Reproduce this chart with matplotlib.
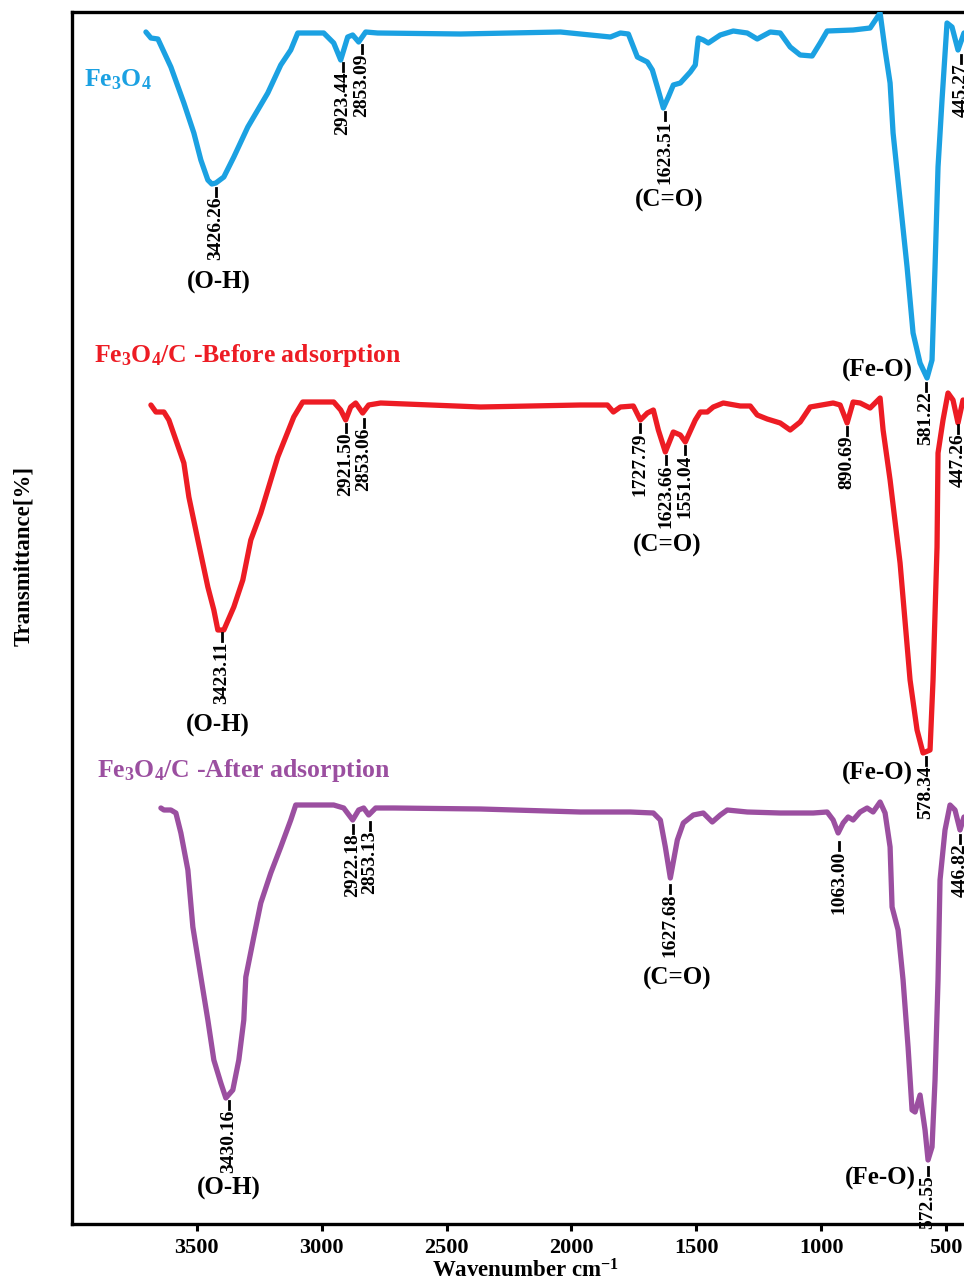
import matplotlib
matplotlib.use('Agg')
import matplotlib.pyplot as plt

plt.rcParams['font.family'] = ['Liberation Serif', 'DejaVu Serif']
plt.rcParams['font.weight'] = 'bold'
plt.rcParams['mathtext.fontset'] = 'custom'
plt.rcParams['mathtext.rm'] = 'Liberation Serif:bold'
plt.rcParams['mathtext.it'] = 'Liberation Serif:bold'
plt.rcParams['mathtext.bf'] = 'Liberation Serif:bold'

# ---------------- data (wavenumber cm-1, stacked transmittance a.u.) -------------
fe3o4_wn = [3704, 3684, 3656, 3604, 3552, 3512, 3484, 3456, 3440, 3424, 3392, 3352, 3296,
            3216, 3164, 3124, 3096, 2992, 2952, 2924, 2896, 2876, 2852, 2824, 2776,
            2444, 2044, 1884, 1844, 1804, 1772, 1736, 1696, 1676, 1656, 1632, 1612,
            1592, 1564, 1524, 1504, 1492, 1472, 1452, 1404, 1352, 1296, 1256, 1204,
            1164, 1124, 1084, 1036, 1004, 976, 872, 804, 764, 744, 724, 712, 684,
            656, 632, 604, 576, 556, 544, 532, 516, 496, 476, 452, 428]
fe3o4_t = [119.2, 118.6, 118.5, 115.7, 112.1, 109.1, 106.4, 104.4, 104.0, 104.1, 104.7, 106.7, 109.7,
           113.1, 115.9, 117.4, 119.1, 119.1, 118.1, 116.4, 118.7, 118.9, 118.2, 119.2, 119.1,
           119.0, 119.2, 118.8, 118.7, 119.1, 119.0, 116.7, 116.2, 115.4, 113.7, 111.6, 112.7,
           113.9, 114.1, 115.2, 115.9, 118.6, 118.4, 118.1, 118.9, 119.3, 119.1, 118.5, 119.2,
           119.1, 117.7, 116.9, 116.8, 118.1, 119.3, 119.4, 119.6, 121.1, 117.4, 114.1, 109.1, 102.4,
           95.7, 89.1, 86.1, 84.6, 86.4, 95.7, 105.7, 112.4, 120.1, 119.7, 117.4, 119.1]

before_wn = [3684, 3664, 3632, 3612, 3584, 3552, 3532, 3496, 3456, 3432, 3416, 3392, 3352,
             3316, 3284, 3244, 3176, 3112, 3076, 2952, 2924, 2904, 2884, 2864, 2836, 2812,
             2764, 2364, 1964, 1856, 1832, 1804, 1752, 1724, 1696, 1672, 1652, 1624, 1592,
             1564, 1544, 1504, 1484, 1456, 1432, 1392, 1324, 1284, 1256, 1216, 1164, 1124,
             1084, 1044, 952, 924, 896, 872, 844, 804, 764, 752, 724, 684, 644, 616, 592,
             564, 552, 536, 532, 512, 492, 472, 452, 432]
before_t = [81.9, 81.2, 81.2, 80.4, 78.4, 76.1, 72.7, 68.4, 63.7, 61.4, 59.4, 59.4, 61.7,
            64.4, 68.4, 71.1, 76.7, 80.7, 82.2, 82.2, 81.4, 80.4, 81.7, 82.1, 81.1, 81.9,
            82.1, 81.7, 81.9, 81.9, 81.2, 81.7, 81.8, 80.4, 81.1, 81.4, 79.4, 77.2, 79.2,
            78.9, 78.2, 80.4, 81.2, 81.2, 81.7, 82.1, 81.8, 81.8, 80.9, 80.5, 80.1, 79.4,
            80.2, 81.7, 82.1, 81.9, 80.1, 82.2, 82.1, 81.6, 82.6, 79.4, 74.4, 66.1, 54.4, 49.4, 47.1,
            47.4, 54.4, 67.7, 77.1, 80.4, 83.1, 82.4, 80.1, 82.4]

after_wn = [3644, 3632, 3604, 3584, 3564, 3536, 3516, 3484, 3456, 3432, 3404, 3384, 3356,
            3332, 3312, 3304, 3272, 3244, 3204, 3164, 3124, 3104, 2952, 2912, 2876, 2852,
            2832, 2812, 2784, 2712, 2364, 1964, 1764, 1672, 1644, 1624, 1604, 1576, 1552,
            1512, 1472, 1436, 1404, 1376, 1296, 1164, 1032, 976, 952, 932, 912, 892, 872,
            844, 816, 792, 764, 744, 724, 716, 692, 672, 652, 636, 624, 604, 584, 572, 556,
            544, 532, 524, 504, 484, 464, 444, 428]
after_t = [41.6, 41.4, 41.4, 41.1, 39.1, 35.4, 29.7, 24.7, 20.4, 16.4, 14.1, 12.6, 13.4,
           16.4, 20.4, 24.7, 28.7, 32.1, 35.1, 37.7, 40.4, 41.9, 41.9, 41.6, 40.4, 41.4,
           41.6, 40.9, 41.6, 41.6, 41.5, 41.2, 41.2, 41.1, 40.4, 37.7, 34.6, 38.4, 40.1,
           40.9, 41.1, 40.2, 40.9, 41.4, 41.2, 41.1, 41.1, 41.2, 40.4, 39.1, 40.1, 40.7, 40.4,
           41.2, 41.6, 41.2, 42.2, 41.1, 37.7, 31.7, 29.4, 24.4, 17.7, 11.4, 11.2, 12.9, 9.4, 6.4, 7.7,
           14.4, 24.4, 34.4, 39.4, 41.9, 41.4, 39.4, 40.7]

series_names = ['Fe$_3$O$_4$', 'Fe$_3$O$_4$/C -Before adsorption', 'Fe$_3$O$_4$/C -After adsorption']
series_colors = ['#1BA1E2', '#ED1C24', '#9B4FA0']

# peak labels: (label position wn, tick top, text)
peaks_fe3o4 = [(3424, 103.6, '3426.26'), (2916, 116.1, '2923.44'), (2840, 117.9, '2853.09'),
               (1624, 111.2, '1623.51'), (440, 116.9, '445.27'), (580, 84.1, '581.22')]
peaks_before = [(3400, 59.1, '3423.11'), (2904, 80.0, '2921.50'), (2832, 80.5, '2853.06'),
                (1724, 80.0, '1727.79'), (1620, 76.8, '1623.66'), (1544, 77.8, '1551.04'),
                (896, 79.7, '890.69'), (452, 79.9, '447.26'), (580, 46.7, '578.34')]
peaks_after = [(3372, 12.3, '3430.16'), (2876, 39.9, '2922.18'), (2808, 40.2, '2853.13'),
               (1604, 33.9, '1627.68'), (928, 38.2, '1063.00'), (444, 38.9, '446.82'),
               (572, 5.7, '572.55')]

# group labels: (wn, y, text)
groups = [(3412, 94.2, '(O-H)'), (1608, 102.4, '(C=O)'), (776, 85.4, '(Fe-O)'),
          (3416, 49.9, '(O-H)'), (1616, 67.9, '(C=O)'), (776, 45.1, '(Fe-O)'),
          (3372, 3.6, '(O-H)'), (1576, 24.6, '(C=O)'), (764, 4.6, '(Fe-O)')]

# series name positions (left wn, y)
name_pos = [(3952, 114.4), (3912, 86.9), (3900, 45.4)]

xticks = [3500, 3000, 2500, 2000, 1500, 1000, 500]

# ---------------- figure ----------------
fig = plt.figure(figsize=(9.64, 12.84), dpi=100)
ax = fig.add_axes([72 / 964, 60 / 1284, (964 - 72) / 964, 1212 / 1284])
ax.set_xlim(4000, 428)
ax.set_ylim(0, 121.2)

for wn, t, c in zip([fe3o4_wn, before_wn, after_wn], [fe3o4_t, before_t, after_t], series_colors):
    ax.plot(wn, t, color=c, lw=3.8, solid_joinstyle='round', solid_capstyle='round', zorder=3)

for peaks in [peaks_fe3o4, peaks_before, peaks_after]:
    for w, y, s in peaks:
        ax.plot([w, w], [y, y - 0.75], color='black', lw=2.0, zorder=4)
        ax.text(w, y - 0.85, s, rotation=90, ha='center', va='top', fontsize=14,
                fontweight='bold', color='black', zorder=4)

for w, y, s in groups:
    ax.text(w, y, s, ha='center', va='center', fontsize=18, fontweight='bold', color='black')

for (w, y), s, c in zip(name_pos, series_names, series_colors):
    ax.text(w, y, s, ha='left', va='center', fontsize=18.5, fontweight='bold', color=c)

ax.set_xticks(xticks)
ax.set_xticklabels([str(v) for v in xticks])
ax.tick_params(axis='x', direction='out', length=5, width=2.2, labelsize=16, pad=5)
ax.set_yticks([])
for lab in ax.get_xticklabels():
    lab.set_fontweight('bold')
for sp in ['left', 'bottom', 'top']:
    ax.spines[sp].set_linewidth(2.4)
ax.spines['right'].set_visible(False)

fig.text(525 / 964, 1 - 1271 / 1284, 'Wavenumber cm$^{-1}$', ha='center', va='center',
         fontsize=16.5, fontweight='bold')
fig.text(24 / 964, 1 - 556 / 1284, 'Transmittance[%]', ha='center', va='center',
         rotation=90, fontsize=16.5, fontweight='bold')

fig.savefig('out.png', dpi=100)
